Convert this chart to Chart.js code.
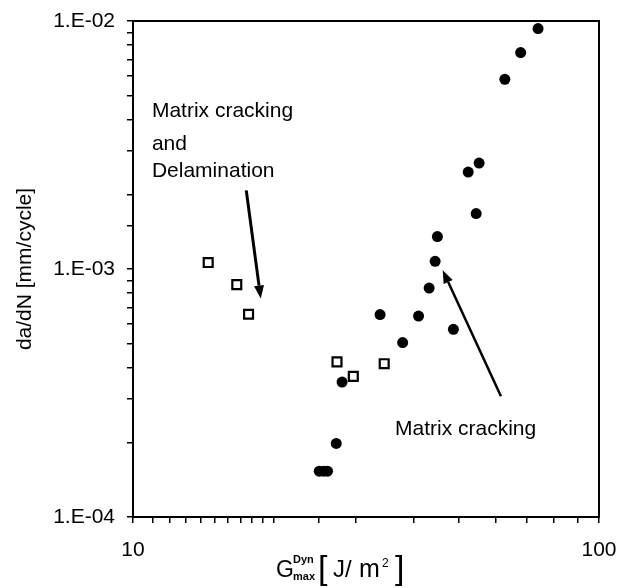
<!DOCTYPE html>
<html>
<head>
<meta charset="utf-8">
<script src="https://cdn.jsdelivr.net/npm/chart.js@4.4.1/dist/chart.umd.min.js"></script>
<style>
  html, body { margin: 0; padding: 0; background: #fff; }
  #wrap { width: 622px; height: 588px; position: relative; }
</style>
</head>
<body>
<div id="wrap"><canvas id="crackChart"></canvas></div>
<script>
// G_max^Dyn [J/m2] vs da/dN [mm/cycle]
const gMatrix = [74.0, 67.9, 62.8, 55.3, 52.4, 54.5, 45.0, 44.5, 43.2, 33.9, 41.0, 48.7, 37.9, 28.1, 27.3, 25.1, 25.65, 26.15];
const rateMatrix = [0.00932, 0.00746, 0.00582, 0.002675, 0.00246, 0.001673, 0.001352, 0.001074, 0.000838, 0.000655, 0.000646, 0.000571, 0.000505, 0.00035, 0.000198, 0.000153, 0.000153, 0.000153];
const gDelam = [14.5, 16.7, 17.7, 27.4, 29.7, 34.6];
const rateDelam = [0.001062, 0.000865, 0.000657, 0.000422, 0.000369, 0.000415];

const xTickLabels = [10, 100];
const yTickLabels = [1e-4, 1e-3, 1e-2];

// annotation texts (data coords of left/baseline) and arrows (from -> tip)
const noteLines = [
  { text: 'Matrix cracking', x: 10.98, y: 0.00409 },
  { text: 'and', x: 10.98, y: 0.00301 },
  { text: 'Delamination', x: 10.98, y: 0.00234 },
  { text: 'Matrix cracking', x: 36.5, y: 0.0002135 }
];
const arrows = [
  { x0: 17.5, y0: 0.002075, x1: 18.8, y1: 0.00076, w: 3 },
  { x0: 61.6, y0: 0.000307, x1: 46.2, y1: 0.000989, w: 2.5 }
];

const FONT = "'Liberation Sans', Arial, sans-serif";

function toPts(xs, ys) {
  return xs.map((x, i) => ({ x: x, y: ys[i] }));
}

function isShown(v, list) {
  return list.some(t => Math.abs(Math.log10(v) - Math.log10(t)) < 1e-6);
}

function noPad(s) {
  s.paddingLeft = 0; s.paddingRight = 0;
  s.paddingTop = 0; s.paddingBottom = 0;
}

const extras = {
  id: 'extras',
  afterDraw(chart) {
    const ctx = chart.ctx;
    const a = chart.chartArea;
    const sx = chart.scales.x, sy = chart.scales.y;
    ctx.save();
    // frame
    ctx.strokeStyle = '#000';
    ctx.lineWidth = 2;
    ctx.strokeRect(a.left, a.top, a.right - a.left, a.bottom - a.top);

    // notes
    ctx.fillStyle = '#000';
    ctx.font = '21px ' + FONT;
    ctx.textBaseline = 'alphabetic';
    ctx.textAlign = 'left';
    noteLines.forEach(n => {
      ctx.fillText(n.text, sx.getPixelForValue(n.x), sy.getPixelForValue(n.y));
    });

    // arrows
    arrows.forEach(ar => {
      const x0 = sx.getPixelForValue(ar.x0), y0 = sy.getPixelForValue(ar.y0);
      const x1 = sx.getPixelForValue(ar.x1), y1 = sy.getPixelForValue(ar.y1);
      const ang = Math.atan2(y1 - y0, x1 - x0);
      const len = 13, half = 5;
      const bx = x1 - len * Math.cos(ang), by = y1 - len * Math.sin(ang);
      ctx.lineWidth = ar.w;
      ctx.beginPath();
      ctx.moveTo(x0, y0);
      ctx.lineTo(bx, by);
      ctx.stroke();
      ctx.beginPath();
      ctx.moveTo(x1, y1);
      ctx.lineTo(bx + half * Math.sin(ang), by - half * Math.cos(ang));
      ctx.lineTo(bx - half * Math.sin(ang), by + half * Math.cos(ang));
      ctx.closePath();
      ctx.fill();
    });

    // x axis title: G^Dyn_max [J/m²]
    const base = 577;
    ctx.font = '23px ' + FONT;
    ctx.fillText('G', 276, base);
    ctx.font = 'bold 11px ' + FONT;
    ctx.fillText('Dyn', 293, base - 14);
    ctx.fillText('max', 293, base + 3);
    ctx.font = '34px ' + FONT;
    ctx.fillText('[', 318, base + 2);
    ctx.fillText(']', 395, base + 2);
    ctx.font = '24px ' + FONT;
    ctx.fillText('J', 333, base);
    ctx.fillText('/', 345, base);
    ctx.font = '25px ' + FONT;
    ctx.fillText('m', 359, base);
    ctx.font = '12px ' + FONT;
    ctx.fillText('2', 382, base - 10);
    ctx.restore();
  }
};

const chart = new Chart(document.getElementById('crackChart').getContext('2d'), {
  type: 'scatter',
  data: {
    datasets: [
      {
        label: 'Matrix cracking',
        data: toPts(gMatrix, rateMatrix),
        pointStyle: 'circle',
        pointRadius: 5.5,
        backgroundColor: '#000',
        borderColor: '#000',
        borderWidth: 0
      },
      {
        label: 'Matrix cracking and Delamination',
        data: toPts(gDelam, rateDelam),
        pointStyle: 'rect',
        pointRadius: 6.3,
        backgroundColor: '#fff',
        borderColor: '#000',
        borderWidth: 2.2
      }
    ]
  },
  options: {
    responsive: true,
    maintainAspectRatio: false,
    animation: false,
    layout: { padding: { top: 21, right: 23, left: 0, bottom: 0 } },
    plugins: {
      legend: { display: false },
      tooltip: { enabled: false }
    },
    scales: {
      x: {
        type: 'logarithmic',
        min: 10,
        max: 100,
        afterFit: (s) => { s.height = 71; noPad(s); },
        border: { display: true, color: '#000', width: 2 },
        grid: { drawOnChartArea: false, drawTicks: true, tickLength: 6, color: '#000', lineWidth: 1.5 },
        ticks: {
          color: '#000',
          padding: 15,
          maxRotation: 0,
          autoSkip: false,
          font: { family: FONT, size: 21 },
          callback: (v) => isShown(v, xTickLabels) ? String(Math.round(v)) : ''
        }
      },
      y: {
        type: 'logarithmic',
        min: 1e-4,
        max: 1e-2,
        afterFit: (s) => { s.width = 133; noPad(s); },
        border: { display: true, color: '#000', width: 2 },
        grid: { drawOnChartArea: false, drawTicks: true, tickLength: 6, color: '#000', lineWidth: 1.5 },
        ticks: {
          color: '#000',
          padding: 12,
          autoSkip: false,
          font: { family: FONT, size: 21 },
          callback: (v) => {
            if (!isShown(v, yTickLabels)) return '';
            const e = Math.round(Math.log10(v));
            return '1.E-' + String(-e).padStart(2, '0');
          }
        },
        title: {
          display: true,
          text: 'da/dN [mm/cycle]',
          color: '#000',
          font: { family: FONT, size: 21 },
          padding: { top: 13, bottom: 0 }
        }
      }
    }
  },
  plugins: [extras]
});
</script>
</body>
</html>
